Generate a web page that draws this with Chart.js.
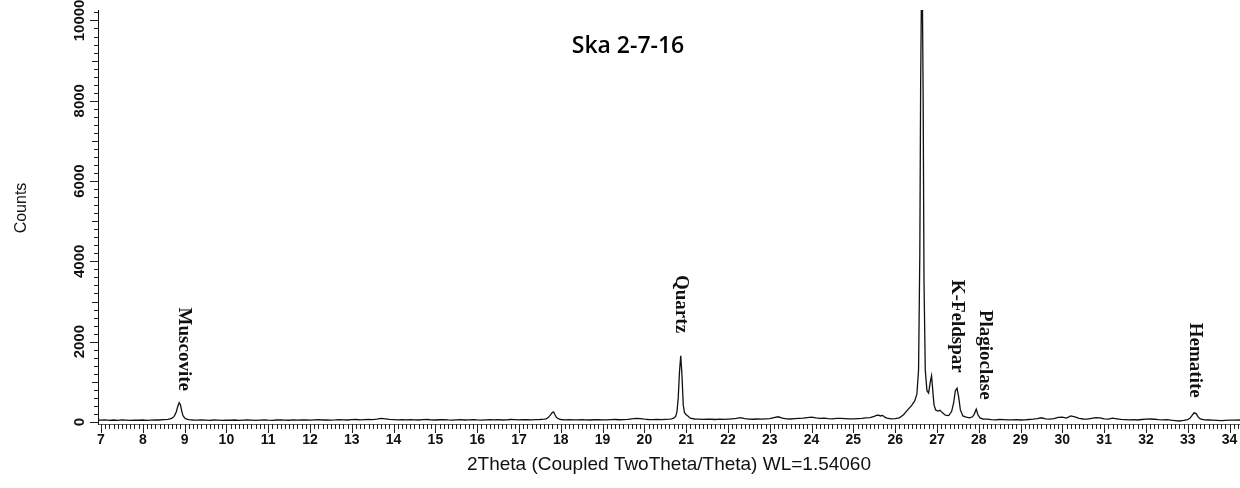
<!DOCTYPE html>
<html>
<head>
<meta charset="utf-8">
<script src="https://cdn.jsdelivr.net/npm/chart.js@4/dist/chart.umd.min.js"></script>
<style>
  html, body { margin: 0; padding: 0; background: #ffffff; }
  #wrap { width: 1240px; height: 488px; }
</style>
</head>
<body>
<div id="wrap"><canvas id="c" width="1240" height="488"></canvas></div>
<script>
// ---------------- DATA ----------------
const chartTitle = 'Ska 2-7-16';
const xAxisTitle = '2Theta (Coupled TwoTheta/Theta) WL=1.54060';
const yAxisTitle = 'Counts';

const xTickValues = [7,8,9,10,11,12,13,14,15,16,17,18,19,20,21,22,23,24,25,26,27,28,29,30,31,32,33,34];
const yTickValues = [0,2000,4000,6000,8000,10000];

const twoTheta = [
  6.93, 7.0, 7.1, 7.2, 7.3, 7.4, 7.5, 7.6, 7.7, 7.8,
  7.9, 8.0, 8.1, 8.2, 8.3, 8.4, 8.5, 8.6, 8.65, 8.7,
  8.75, 8.8, 8.84, 8.87, 8.9, 8.93, 8.96, 9.0, 9.05, 9.1,
  9.2, 9.3, 9.4, 9.5, 9.6, 9.7, 9.8, 9.9, 10.0, 10.1,
  10.2, 10.3, 10.4, 10.5, 10.6, 10.7, 10.8, 10.9, 11.0, 11.1,
  11.2, 11.3, 11.4, 11.5, 11.6, 11.7, 11.8, 11.9, 12.0, 12.1,
  12.2, 12.3, 12.4, 12.5, 12.6, 12.7, 12.8, 12.9, 13.0, 13.1,
  13.2, 13.3, 13.4, 13.5, 13.6, 13.7, 13.8, 13.9, 14.0, 14.1,
  14.2, 14.3, 14.4, 14.5, 14.6, 14.7, 14.8, 14.9, 15.0, 15.1,
  15.2, 15.3, 15.4, 15.5, 15.6, 15.7, 15.8, 15.9, 16.0, 16.1,
  16.2, 16.3, 16.4, 16.5, 16.6, 16.7, 16.8, 16.9, 17.0, 17.1,
  17.2, 17.3, 17.4, 17.5, 17.6, 17.65, 17.7, 17.75, 17.8, 17.83,
  17.86, 17.9, 17.95, 18.0, 18.1, 18.2, 18.3, 18.4, 18.5, 18.6,
  18.7, 18.8, 18.9, 19.0, 19.1, 19.2, 19.3, 19.4, 19.5, 19.6,
  19.7, 19.8, 19.9, 20.0, 20.1, 20.2, 20.3, 20.4, 20.5, 20.6,
  20.65, 20.7, 20.75, 20.78, 20.81, 20.84, 20.87, 20.9, 20.93, 20.96,
  21.0, 21.04, 21.1, 21.2, 21.3, 21.4, 21.5, 21.6, 21.7, 21.8,
  21.9, 22.0, 22.1, 22.2, 22.3, 22.4, 22.5, 22.6, 22.7, 22.8,
  22.9, 23.0, 23.1, 23.2, 23.3, 23.4, 23.5, 23.6, 23.7, 23.8,
  23.9, 24.0, 24.1, 24.2, 24.3, 24.4, 24.5, 24.6, 24.7, 24.8,
  24.9, 25.0, 25.1, 25.2, 25.3, 25.4, 25.5, 25.55, 25.6, 25.65,
  25.7, 25.75, 25.8, 25.9, 26.0, 26.1, 26.2, 26.3, 26.4, 26.47,
  26.52, 26.56, 26.59, 26.61, 26.63, 26.65, 26.67, 26.69, 26.72, 26.76,
  26.8, 26.84, 26.87, 26.9, 26.93, 26.97, 27.02, 27.07, 27.12, 27.2,
  27.28, 27.35, 27.4, 27.44, 27.48, 27.52, 27.56, 27.62, 27.7, 27.78,
  27.85, 27.89, 27.94, 27.98, 28.03, 28.1, 28.2, 28.3, 28.4, 28.5,
  28.6, 28.7, 28.8, 28.9, 29.0, 29.1, 29.2, 29.3, 29.4, 29.5,
  29.6, 29.7, 29.8, 29.9, 30.0, 30.1, 30.2, 30.3, 30.4, 30.5,
  30.6, 30.7, 30.8, 30.9, 31.0, 31.1, 31.2, 31.3, 31.4, 31.5,
  31.6, 31.7, 31.8, 31.9, 32.0, 32.1, 32.2, 32.3, 32.4, 32.5,
  32.6, 32.7, 32.8, 32.9, 33.0, 33.05, 33.1, 33.15, 33.2, 33.25,
  33.3, 33.4, 33.5, 33.6, 33.7, 33.8, 33.9, 34.0, 34.1, 34.25
];

const counts = [
  50, 45, 55, 42, 50, 38, 52, 45, 40, 48,
  44, 50, 42, 48, 55, 50, 58, 65, 75, 95,
  140, 250, 400, 480, 430, 280, 160, 100, 70, 58,
  50, 45, 52, 48, 42, 50, 46, 40, 48, 44,
  50, 42, 47, 52, 45, 40, 48, 53, 46, 42,
  50, 55, 47, 44, 52, 48, 55, 50, 46, 53,
  58, 50, 55, 48, 52, 60, 55, 50, 57, 62,
  55, 60, 65, 58, 70, 90, 80, 65, 60, 55,
  58, 52, 60, 55, 50, 57, 62, 55, 50, 56,
  60, 52, 48, 55, 58, 50, 54, 60, 52, 48,
  55, 60, 52, 57, 50, 55, 62, 58, 52, 56,
  60, 55, 58, 62, 70, 80, 110, 170, 240, 250,
  180, 110, 75, 62, 55, 58, 52, 55, 60, 54,
  50, 56, 60, 55, 52, 58, 62, 56, 60, 65,
  80, 90, 85, 70, 62, 58, 65, 60, 66, 72,
  80, 95, 140, 260, 600, 1250, 1650, 1150, 420, 230,
  180, 150, 95, 75, 70, 65, 72, 68, 62, 70,
  66, 72, 80, 90, 110, 85, 72, 68, 75, 70,
  78, 85, 110, 130, 95, 80, 75, 82, 90, 95,
  110, 120, 100, 90, 95, 85, 80, 88, 92, 85,
  80, 78, 85, 90, 100, 110, 140, 165, 170, 150,
  165, 120, 95, 80, 85, 105, 180, 300, 420, 530,
  700, 1300, 4200, 8500, 10800, 10800, 8000, 3500, 1300, 780,
  720, 1000, 1150, 780, 420, 300, 270, 290, 240, 170,
  160, 260, 480, 780, 840, 620, 300, 150, 120, 105,
  130, 190, 320, 180, 100, 75, 70, 60, 55, 62,
  58, 52, 55, 60, 50, 55, 62, 70, 85, 105,
  80, 70, 85, 115, 120, 95, 150, 130, 90, 75,
  70, 90, 110, 100, 80, 70, 95, 80, 65, 60,
  55, 60, 50, 62, 70, 75, 68, 60, 55, 58,
  45, 35, 25, 40, 60, 90, 160, 230, 210, 120,
  75, 55, 50, 45, 40, 35, 42, 48, 45, 50
];

// phase annotations: name, 2Theta position, count level where the (rotated) label starts
const phaseNames = ['Muscovite', 'Quartz', 'K-Feldspar', 'Plagioclase', 'Hematite'];
const phaseTwoTheta = [8.98, 20.88, 27.48, 28.15, 33.17];
const phaseLabelTop = [2850, 3660, 3540, 2790, 2470];

// ---------------- CHART ----------------
const SANS = "'Liberation Sans', Arial, sans-serif";
const SERIF = "'Liberation Serif', 'Times New Roman', serif";

const decorPlugin = {
  id: 'decor',
  afterDraw(chart) {
    const { ctx, chartArea, scales } = chart;
    const xs = scales.x, ys = scales.y;
    ctx.save();
    // minor / major tick marks
    ctx.strokeStyle = '#222';
    ctx.lineWidth = 1;
    ctx.beginPath();
    for (let i = 70; i <= 342; i++) {
      const px = Math.round(xs.getPixelForValue(i / 10)) + 0.5;
      if (px > chartArea.right) break;
      const len = (i % 10 === 0) ? 9 : 5;
      ctx.moveTo(px, chartArea.bottom);
      ctx.lineTo(px, chartArea.bottom + len);
    }
    for (let j = 0; j * 200 <= ys.max; j++) {
      const v = j * 200;
      const py = Math.round(ys.getPixelForValue(v)) + 0.5;
      const len = (v % 2000 === 0) ? 8 : ((v % 1000 === 0) ? 6 : 4);
      ctx.moveTo(chartArea.left, py);
      ctx.lineTo(chartArea.left - len, py);
    }
    ctx.stroke();

    // y-axis title (rotated, reading bottom to top)
    ctx.fillStyle = '#111';
    ctx.font = '16px ' + SANS;
    ctx.textAlign = 'center';
    ctx.textBaseline = 'middle';
    ctx.save();
    ctx.translate(22, 208);
    ctx.rotate(-Math.PI / 2);
    ctx.fillText(yAxisTitle, 0, 0);
    ctx.restore();

    // phase labels (rotated, reading top to bottom)
    ctx.font = 'bold 19px ' + SERIF;
    ctx.textAlign = 'left';
    ctx.textBaseline = 'middle';
    phaseNames.forEach((name, k) => {
      ctx.save();
      ctx.translate(xs.getPixelForValue(phaseTwoTheta[k]), ys.getPixelForValue(phaseLabelTop[k]));
      ctx.rotate(Math.PI / 2);
      ctx.fillText(name, 0, 0);
      ctx.restore();
    });

    // sample title inside the plot
    ctx.font = '600 23px "Open Sans", sans-serif';
    ctx.textAlign = 'center';
    ctx.textBaseline = 'alphabetic';
    ctx.fillStyle = '#000';
    ctx.fillText(chartTitle, 628, 53);
    ctx.restore();
  }
};

new Chart(document.getElementById('c'), {
  type: 'line',
  data: {
    datasets: [{
      data: twoTheta.map((t, i) => ({ x: t, y: counts[i] })),
      borderColor: '#111',
      borderWidth: 1.3,
      pointRadius: 0,
      tension: 0,
      fill: false
    }]
  },
  options: {
    responsive: false,
    animation: false,
    events: [],
    layout: { padding: { top: 10, right: 0, bottom: 0, left: 0 } },
    plugins: {
      legend: { display: false },
      tooltip: { enabled: false },
      title: { display: false }
    },
    scales: {
      x: {
        type: 'linear',
        min: 6.928,
        max: 34.25,
        grid: { display: false, drawTicks: false },
        border: { display: true, color: '#666', width: 1 },
        afterBuildTicks: (s) => { s.ticks = xTickValues.map(v => ({ value: v })); },
        ticks: {
          autoSkip: false,
          maxRotation: 0,
          includeBounds: false,
          padding: 8,
          color: '#111',
          font: { family: SANS, size: 14, weight: 'bold' },
          callback: (v) => String(v)
        },
        title: {
          display: true,
          text: xAxisTitle,
          color: '#111',
          font: { family: SANS, size: 19 },
          padding: { top: 0, bottom: 12 }
        },
        afterFit: (s) => { s.height = 64; s.paddingLeft = 0; s.paddingRight = 0; }
      },
      y: {
        type: 'linear',
        min: -50,
        max: 10260,
        grid: { display: false, drawTicks: false },
        border: { display: true, color: '#111', width: 1 },
        afterBuildTicks: (s) => { s.ticks = yTickValues.map(v => ({ value: v })); },
        ticks: {
          autoSkip: false,
          includeBounds: false,
          minRotation: 90,
          maxRotation: 90,
          crossAlign: 'center',
          padding: -3,
          color: '#111',
          font: { family: SANS, size: 15, weight: 'bold' },
          callback: (v) => String(v)
        },
        title: { display: false },
        afterFit: (s) => { s.width = 98; }
      }
    }
  },
  plugins: [decorPlugin]
});
</script>
</body>
</html>
